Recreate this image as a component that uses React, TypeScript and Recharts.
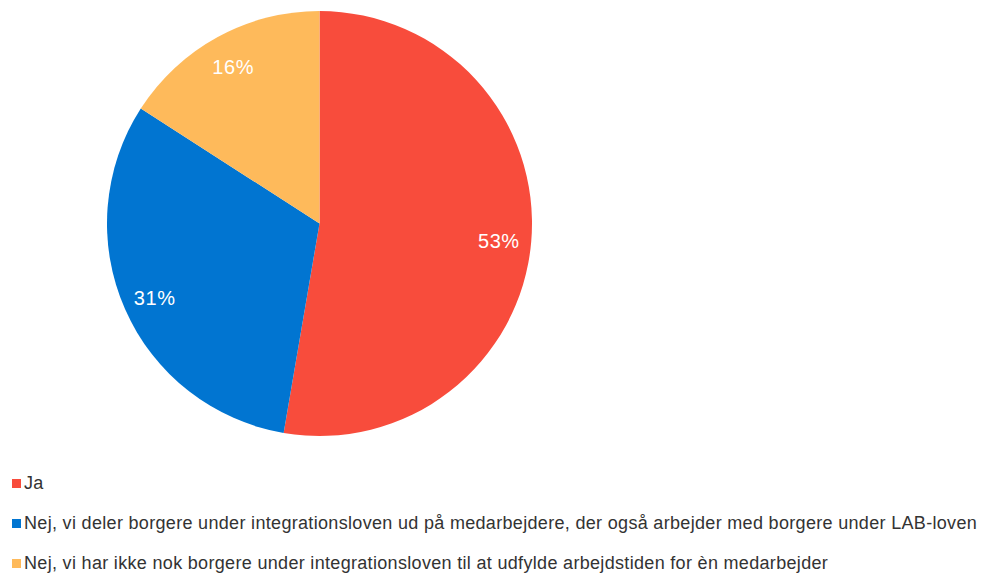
import React from 'react';
import { PieChart, Pie, Cell, Legend } from 'recharts';

const categories = [
  'Ja',
  'Nej, vi deler borgere under integrationsloven ud på medarbejdere, der også arbejder med borgere under LAB-loven',
  'Nej, vi har ikke nok borgere under integrationsloven til at udfylde arbejdstiden for èn medarbejder',
];
const values = [52.7, 31.4, 15.9];
const colors = ['#F84C3C', '#0175D1', '#FEBA5B'];

const data = categories.map((name, i) => ({ name, value: values[i] }));
const total = values.reduce((a, b) => a + b, 0);

const RAD = Math.PI / 180;

const renderLabel = (props: any) => {
  const { cx, cy, midAngle, value } = props;
  const r = 180;
  const x = cx + r * Math.cos(-midAngle * RAD);
  const y = cy + r * Math.sin(-midAngle * RAD);
  return (
    <text
      x={x}
      y={y + 2}
      fill="#ffffff"
      textAnchor="middle"
      dominantBaseline="central"
      fontFamily="'Liberation Sans', Arial, sans-serif"
      fontSize={20}
      letterSpacing={0.6}
    >
      {Math.round((value / total) * 100) + '%'}
    </text>
  );
};

const renderLegend = () => (
  <div style={{ fontFamily: "'Liberation Sans', Arial, sans-serif", fontSize: 18, letterSpacing: 0.32, color: '#333333' }}>
    {categories.map((c, i) => (
      <div key={c} style={{ display: 'flex', alignItems: 'center', height: 40, whiteSpace: 'nowrap' }}>
        <span style={{ display: 'inline-block', width: 9, height: 9, background: colors[i], marginLeft: 12, marginRight: 3 }} />
        <span>{c}</span>
      </div>
    ))}
  </div>
);

export default function App() {
  return (
    <div style={{ position: 'absolute', left: 0, top: 0, width: 982, height: 576, background: '#fff' }}>
      <PieChart width={982} height={576} margin={{ top: 0, right: 0, bottom: 0, left: 0 }}>
        <Pie
          data={data}
          dataKey="value"
          nameKey="name"
          cx={319.5}
          cy={223.5}
          outerRadius={212.5}
          startAngle={90}
          endAngle={-270}
          stroke="none"
          label={renderLabel}
          labelLine={false}
          isAnimationActive={false}
        >
          {data.map((d, i) => (
            <Cell key={d.name} fill={colors[i]} />
          ))}
        </Pie>
        <Legend
          content={renderLegend}
          wrapperStyle={{ position: 'absolute', left: 0, top: 463, width: 982 }}
        />
      </PieChart>
    </div>
  );
}
